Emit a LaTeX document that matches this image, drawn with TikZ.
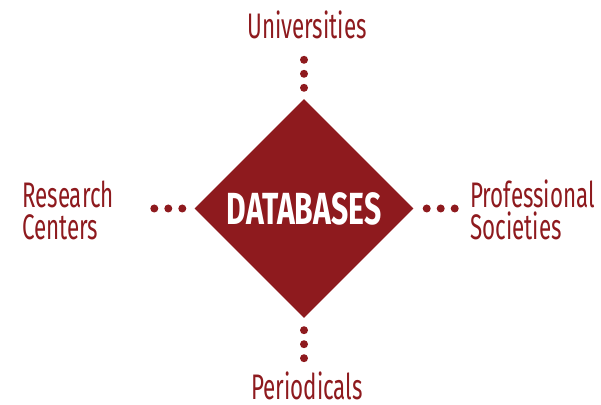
\documentclass[tikz,border=0pt]{standalone}
\usepackage{fontspec}
\usetikzlibrary{shapes.geometric}
\newfontfamily\labelfont[FakeStretch=0.63]{Fira Sans}
\newfontfamily\hubfont[FakeStretch=0.67]{Fira Sans}
\definecolor{dbred}{RGB}{142,26,30}

\begin{document}
\begin{tikzpicture}[x = 1pt, y = 1pt,
        hub/.style = {shape = diamond, aspect = 1, fill = dbred, text = white, inner sep = 0pt,
            minimum width = 219pt, minimum height = 219pt, font = \hubfont\bfseries\fontsize{45}{45}\selectfont},
        source/.style = {text = dbred, inner sep = 0pt, font = \labelfont\fontsize{35.5}{32}\selectfont},
        dotlink/.style = {dbred, line width = 8pt, line cap = round, dash pattern = on 0pt off 14pt}]
        \useasboundingbox (0, 0) rectangle (601, 404);
        \node (db) at (304, 195.5) [hub] {DATABASES};
        \node (uni) at (307, 365) [source, anchor = base] {Universities};
        \node (per) at (307, 5) [source, anchor = base] {Periodicals};
        \node (res) at (22, 194) [source, anchor = west, align = left] {Research\\Centers};
        \node (pro) at (470, 194) [source, anchor = west, align = left] {Professional\\Societies};
        \draw[dotlink] ([yshift = 11pt]db.north) -- ([yshift = 40pt]db.north);
        \draw[dotlink] ([yshift = -12pt]db.south) -- ([yshift = -41pt]db.south);
        \draw[dotlink] ([xshift = -12pt]db.west) -- ([xshift = -41pt]db.west);
        \draw[dotlink] ([xshift = 13pt]db.east) -- ([xshift = 42pt]db.east);
    \end{tikzpicture}
\end{document}
